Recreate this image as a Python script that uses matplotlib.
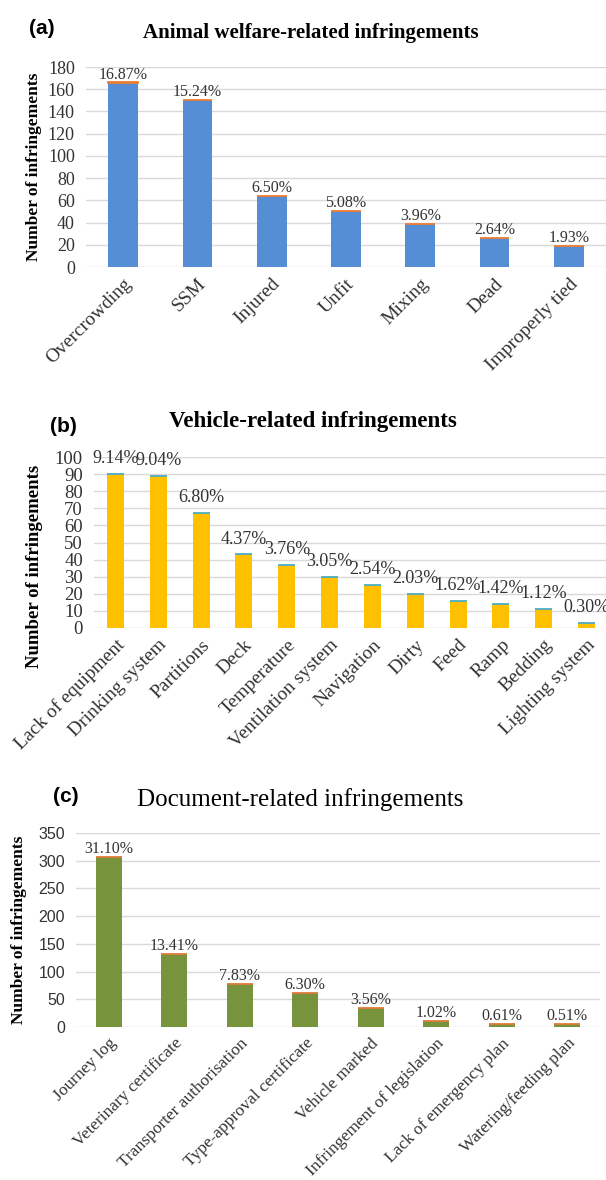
import matplotlib
matplotlib.use('Agg')
import matplotlib.pyplot as plt
import numpy as np

# panel (a) animal welfare
welfare_cats = ['Overcrowding', 'SSM', 'Injured', 'Unfit', 'Mixing', 'Dead', 'Improperly tied']
welfare_counts = [166, 150, 64, 50, 39, 26, 19]
welfare_pct = [16.87, 15.24, 6.50, 5.08, 3.96, 2.64, 1.93]

# panel (b) vehicle
vehicle_cats = ['Lack of equipment', 'Drinking system', 'Partitions', 'Deck', 'Temperature',
                'Ventilation system', 'Navigation', 'Dirty', 'Feed', 'Ramp', 'Bedding',
                'Lighting system']
vehicle_counts = [90, 89, 67, 43, 37, 30, 25, 20, 16, 14, 11, 3]
vehicle_pct = [9.14, 9.04, 6.80, 4.37, 3.76, 3.05, 2.54, 2.03, 1.62, 1.42, 1.12, 0.30]

# panel (c) documents
doc_cats = ['Journey log', 'Veterinary certificate', 'Transporter authorisation',
            'Type-approval certificate', 'Vehicle marked', 'Infringement of legislation',
            'Lack of emergency plan', 'Watering/feeding plan']
doc_counts = [306, 132, 77, 62, 35, 10, 6, 5]
doc_pct = [31.10, 13.41, 7.83, 6.30, 3.56, 1.02, 0.61, 0.51]

SERIF = 'Liberation Serif'
W, H = 606, 1180

fig = plt.figure(figsize=(W / 100, H / 100), dpi=100)


def px_axes(left, top, right, bottom):
    return fig.add_axes([left / W, 1 - bottom / H, (right - left) / W, (bottom - top) / H])


def draw_panel(ax, cats, counts, pct, ymax, step, color, top_color, tick_font, tick_size,
               lab_size, lab_off, xt_size):
    x = np.arange(len(cats))
    ax.bar(x, counts, width=0.4, color=color, zorder=3)
    # second (stacked) series: share as a fraction, only visible as a thin cap
    ax.bar(x, np.array(pct) / 100, bottom=counts, width=0.4, color=top_color,
           edgecolor=top_color, linewidth=1.3, zorder=3)
    for xi, c, p in zip(x, counts, pct):
        ax.annotate('%.2f%%' % p, (xi, c), xytext=(0, lab_off), textcoords='offset points',
                    ha='center', va='bottom', fontsize=lab_size, family=SERIF, color='#333333',
                    annotation_clip=False)
    ax.set_ylim(0, ymax)
    ax.set_xlim(-0.5, len(cats) - 0.5)
    ax.set_yticks(np.arange(0, ymax + 1, step))
    ax.yaxis.grid(True, color='#d9d9d9', linewidth=1)
    ax.set_axisbelow(True)
    for s in ax.spines.values():
        s.set_visible(False)
    ax.tick_params(length=0, colors='#333333')
    for t in ax.get_yticklabels():
        t.set_family(tick_font)
        t.set_fontsize(tick_size)
    ax.set_xticks(x)
    ax.set_xticklabels(cats, rotation=45, ha='right', va='top', rotation_mode='anchor',
                       family=SERIF, fontsize=xt_size, color='#333333')
    ax.tick_params(axis='x', pad=6)
    ax.tick_params(axis='y', pad=8)


# (a)
ax1 = px_axes(86, 67, 606, 267)
draw_panel(ax1, welfare_cats, welfare_counts, welfare_pct, 180, 20, '#558ed5', '#ed7d31',
           SERIF, 13, 11.5, 0, 14)
ax1.set_ylabel('Number of infringements', family=SERIF, fontweight='bold', fontsize=12.5)
ax1.yaxis.set_label_coords(-0.085, 0.5)

# (b)
ax2 = px_axes(94, 457, 608, 628)
draw_panel(ax2, vehicle_cats, vehicle_counts, vehicle_pct, 100, 10, '#ffc000', '#4bacc6',
           SERIF, 13.5, 13, 5, 14)
ax2.set_ylabel('Number of infringements', family=SERIF, fontweight='bold', fontsize=13.5)
ax2.yaxis.set_label_coords(-0.1, 0.36)

# (c)
ax3 = px_axes(76, 833, 600, 1027)
draw_panel(ax3, doc_cats, doc_counts, doc_pct, 350, 50, '#77933c', '#e07b39',
           'Liberation Sans', 11.5, 11.5, 0, 12.5)
ax3.set_ylabel('Number of infringements', family=SERIF, fontweight='bold', fontsize=12.5)
ax3.yaxis.set_label_coords(-0.093, 0.5)

# panel letters and titles
fig.text(42 / W, 1 - 29 / H, '(a)', ha='center', va='center', fontsize=15, fontweight='bold',
         family='Liberation Sans')
fig.text(311 / W, 1 - 33 / H, 'Animal welfare-related infringements', ha='center', va='center',
         fontsize=15, fontweight='bold', family=SERIF)
fig.text(63 / W, 1 - 426 / H, '(b)', ha='center', va='center', fontsize=15, fontweight='bold',
         family='Liberation Sans')
fig.text(313 / W, 1 - 422 / H, 'Vehicle-related infringements', ha='center', va='center',
         fontsize=16.5, fontweight='bold', family=SERIF)
fig.text(66 / W, 1 - 797 / H, '(c)', ha='center', va='center', fontsize=15, fontweight='bold',
         family='Liberation Sans')
fig.text(300 / W, 1 - 800 / H, 'Document-related infringements', ha='center', va='center',
         fontsize=18, family=SERIF)

fig.savefig('out.png', dpi=100, facecolor='white')
